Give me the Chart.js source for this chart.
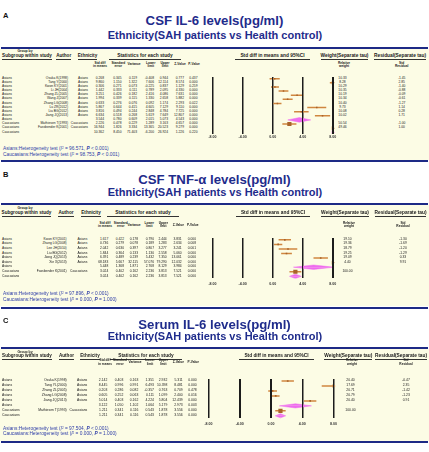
<!DOCTYPE html>
<html>
<head>
<meta charset="utf-8">
<title>Forest plots – ethnicity subgroups</title>
<script src="https://cdn.jsdelivr.net/npm/chart.js@4.4.1/dist/chart.umd.min.js"></script>
<style>
  html, body { margin:0; padding:0; background:#ffffff; }
  #root { position:relative; width:429px; height:452px; overflow:hidden; background:#ffffff;
          font-family:"Liberation Sans", Arial, Helvetica, sans-serif; }
  .t { position:absolute; white-space:nowrap; line-height:1; }
  .r { position:absolute; }
  canvas { position:absolute; }
  sup { font-size:0.62em; vertical-align:0.45em; line-height:0; }
</style>
</head>
<body>
<div id="root"></div>
<script>
// ======================= DATA =======================
const axisTicks = [-8, -4, 0, 4, 8];
const subtitleText = "Ethnicity(SAH patients vs Health control)";
const statHeaders = ["Std diff|in means", "Standard|error", "Variance", "Lower|limit", "Upper|limit", "Z-Value", "P-Value"];

// ---- Panel A : CSF IL-6 ----
const aTitle = "CSF IL-6 levels(pg/ml)";
const aGroup = ["Asians","Asians","Asians","Asians","Asians","Asians","Asians","Asians","Asians","Asians","Asians","Caucasians","Caucasians","Caucasians"];
const aAuthor = ["Osuka K(1998)","Tang Y(2000)","Kwon KY(2001)","Li JH(2004)","Zhang ZL(2005)","Wang Z(2007)","Zhang LG(2008)","Lu ZR(2012)","Liu BG(2012)","Jiang JQ(2013)","","Mathiesen T(1993)","Fassbender K(2001)",""];
const aEthnicity = ["Asians","Asians","Asians","Asians","Asians","Asians","Asians","Asians","Asians","Asians","","Caucasians","Caucasians",""];
const aStdDiff = [0.268, 9.860, 0.306, 1.442, 3.251, 1.994, 0.633, 5.867, 3.816, 6.634, 3.544, 2.226, 16.944, 10.362];
const aStdErr = [0.345, 1.150, 0.271, 0.333, 0.426, 0.339, 0.276, 0.644, 0.494, 0.518, 0.780, 0.478, 1.826, 8.450];
const aVariance = [0.119, 1.322, 0.073, 0.111, 0.182, 0.115, 0.076, 0.415, 0.244, 0.268, 0.609, 0.229, 3.334, 71.403];
const aLower = [-0.408, 7.606, -0.225, 0.789, 2.416, 1.330, 0.092, 4.605, 2.848, 5.619, 2.015, 1.289, 13.365, -6.200];
const aUpper = [0.944, 12.114, 0.837, 2.095, 4.086, 2.658, 1.174, 7.129, 4.784, 7.649, 5.073, 3.163, 20.523, 26.924];
const aZ = [0.777, 8.574, 1.129, 4.330, 7.631, 5.882, 2.293, 9.110, 7.725, 12.807, 4.543, 4.657, 9.279, 1.226];
const aP = [0.437, 0.000, 0.259, 0.000, 0.000, 0.000, 0.022, 0.000, 0.000, 0.000, 0.000, 0.000, 0.000, 0.220];
const aWeight = [10.33, 8.28, 10.29, 10.35, 10.19, 10.34, 10.40, 9.73, 10.08, 10.02, null, 50.54, 49.46, null];
const aResidual = [-1.45, 2.85, -1.40, -0.88, -0.09, -0.61, -1.27, 1.14, 0.28, 1.71, null, -1.00, 1.00, null];
const aHetGroup = ["Asians", "Caucasians"];
const aHetI2 = [96.571, 98.753];
const aHetP = ["< 0.001", "< 0.001"];

// ---- Panel B : CSF TNF-α ----
const bTitle = "CSF TNF-α levels(pg/ml)";
const bGroup = ["Asians","Asians","Asians","Asians","Asians","Asians","Asians","Caucasians","Caucasians"];
const bAuthor = ["Kwon KY(2001)","Zhang LG(2008)","Lee JH(2010)","Liu BG(2012)","Jiang JQ(2013)","Xie X(2013)","","Fassbender K(2001)",""];
const bEthnicity = ["Asians","Asians","Asians","Asians","Asians","Asians","","Caucasians",""];
const bStdDiff = [1.617, 0.736, 2.042, 1.844, 6.391, 68.183, 5.448, 3.024, 3.024];
const bStdErr = [0.422, 0.279, 0.630, 0.364, 0.489, 5.667, 1.368, 0.402, 0.402];
const bVariance = [0.178, 0.078, 0.397, 0.133, 0.239, 32.115, 1.871, 0.162, 0.162];
const bLower = [0.790, 0.189, 0.807, 1.130, 5.432, 57.076, 2.768, 2.236, 2.236];
const bUpper = [2.444, 1.283, 3.277, 2.558, 7.350, 79.290, 8.129, 3.813, 3.813];
const bZ = [3.831, 2.634, 3.241, 5.060, 13.061, 12.032, 3.984, 7.521, 7.521];
const bP = [0.000, 0.008, 0.001, 0.000, 0.000, 0.000, 0.000, 0.000, 0.000];
const bWeight = [19.10, 19.36, 18.79, 19.25, 19.09, 4.40, null, 100.00, null];
const bResidual = [-1.30, -1.69, -1.20, -1.29, 0.33, 9.91, null, null, null];
const bHetGroup = ["Asians", "Caucasians"];
const bHetI2 = [97.896, 0.000];
const bHetP = ["< 0.001", "= 1.000"];

// ---- Panel C : Serum IL-6 ----
const cTitle = "Serum IL-6 levels(pg/ml)";
const cGroup = ["Asians","Asians","Asians","Asians","Asians","Asians","Caucasians","Caucasians"];
const cAuthor = ["Osuka K(1998)","Tang YL(2000)","Zhang ZL(2005)","Zhang LG(2008)","Jiang JQ(2013)","","Mathiesen T(1993)",""];
const cEthnicity = ["Asians","Asians","Asians","Asians","Asians","","Caucasians",""];
const cStdDiff = [2.142, 8.445, 0.203, 0.605, 5.014, 3.122, 1.211, 1.211];
const cStdErr = [0.403, 0.996, 0.286, 0.252, 0.403, 1.050, 0.341, 0.341];
const cVariance = [0.163, 0.991, 0.082, 0.063, 0.162, 1.102, 0.116, 0.116];
const cLower = [1.351, 6.493, -0.357, 0.111, 4.224, 1.064, 0.543, 0.543];
const cUpper = [2.932, 10.398, 0.763, 1.099, 5.804, 5.179, 1.878, 1.878];
const cZ = [5.311, 8.481, 0.709, 2.400, 12.439, 2.973, 3.556, 3.556];
const cP = [0.000, 0.000, 0.478, 0.016, 0.000, 0.003, 0.000, 0.000];
const cWeight = [20.40, 17.69, 20.71, 20.79, 20.40, null, 100.00, null];
const cResidual = [-0.47, 2.35, -1.42, -1.23, 0.91, null, null, null];
const cHetGroup = ["Asians", "Caucasians"];
const cHetI2 = [97.504, 0.000];
const cHetP = ["< 0.001", "= 1.000"];

// ======================= STYLE / LAYOUT =======================
const COL = {
  title: "#1f2c8c", rule: "#1d2a86", band: "#fcfce5", text: "#202020",
  het: "#2e3da8", ci: "#cf8640", box: "#a8632a", diamond: "#ee6cee", grid: "#1c1c1c"
};
const FONT = '"Liberation Sans", Arial, Helvetica, sans-serif';
const TICK_FS = 3.6;

const panels = [
  { letter: "A", title: aTitle,
    d: { group:aGroup, author:aAuthor, eth:aEthnicity, stdDiff:aStdDiff, se:aStdErr, variance:aVariance,
         lower:aLower, upper:aUpper, z:aZ, p:aP, weight:aWeight, resid:aResidual },
    het: { group:aHetGroup, i2:aHetI2, p:aHetP },
    L: { labelY:16, titleY:21, subY:35.2, ruleTop:47.5, ruleBottom:161.2,
         groupByY:51.2, subgroupY:56.7, hdr1Y:63.2, hdr2Y:66.8,
         rowY:78.3, rowStep:4.15, rowFs:3.3, tickPad:1.2, hetY:[149.5,155.3],
         plotX:[212.5,332.8], subgroupX:27, authorX:63.7, ethX:87.5, statsX:145,
         authorEnd:68, ethEnd:88, numEnds:[104,121.5,137,154,168,184,197.5],
         hdrCenters:[100,118.3,134,150.7,165,180,194],
         ciHdrX:272.5, weightHdrX:344.5, residHdrX:400, weightX:342.5, residX:401.7, diamondH:0.55 } },
  { letter: "B", title: bTitle,
    d: { group:bGroup, author:bAuthor, eth:bEthnicity, stdDiff:bStdDiff, se:bStdErr, variance:bVariance,
         lower:bLower, upper:bUpper, z:bZ, p:bP, weight:bWeight, resid:bResidual },
    het: { group:bHetGroup, i2:bHetI2, p:bHetP },
    L: { labelY:174.3, titleY:180, subY:192.5, ruleTop:203.7, ruleBottom:307.5,
         groupByY:208.7, subgroupY:213.5, hdr1Y:223.3, hdr2Y:226.9,
         rowY:239.5, rowStep:4.6, rowFs:3.3, tickPad:3.4, hetY:[294.8,300.5],
         plotX:[212.5,332.8], subgroupX:26.5, authorX:66, ethX:91, statsX:143,
         authorEnd:66.7, ethEnd:87.3, numEnds:[108.3,124,138,154,166.7,181.7,196],
         hdrCenters:[105,120.7,134,149.3,163.3,178.3,192.7],
         ciHdrX:273, weightHdrX:345, residHdrX:400.5, weightX:347.5, residX:403, diamondH:0.48 } },
  { letter: "C", title: cTitle,
    d: { group:cGroup, author:cAuthor, eth:cEthnicity, stdDiff:cStdDiff, se:cStdErr, variance:cVariance,
         lower:cLower, upper:cUpper, z:cZ, p:cP, weight:cWeight, resid:cResidual },
    het: { group:cHetGroup, i2:cHetI2, p:cHetP },
    L: { labelY:320.5, titleY:324.3, subY:336.7, ruleTop:347.7, ruleBottom:441.7,
         groupByY:352.3, subgroupY:356.5, hdr1Y:361, hdr2Y:365,
         rowY:380.8, rowStep:5.0, rowFs:3.4, tickPad:4, hetY:[429.5,434.7],
         plotX:[208.5,333.5], subgroupX:27, authorX:66.5, ethX:90, statsX:146,
         authorEnd:66.7, ethEnd:87.3, numEnds:[107.3,123.3,138.3,154,167.3,182.7,196.7],
         hdrCenters:[105,120,135,150,163.3,178.3,193.3],
         ciHdrX:276.5, weightHdrX:348.3, residHdrX:401, weightX:350.5, residX:406, diamondH:0.42 } }
];

// ======================= HELPERS =======================
const root = document.getElementById('root');

function txt(str, x, y, size, o) {
  o = o || {};
  const d = document.createElement('div');
  d.className = 't';
  if (o.html) d.innerHTML = str; else d.textContent = str;
  d.style.left = x + 'px';
  d.style.top = (y - size * 0.5) + 'px';
  d.style.fontSize = size + 'px';
  d.style.color = o.color || COL.text;
  if (o.bold) d.style.fontWeight = 'bold';
  const a = o.align || 'left';
  if (a === 'center') d.style.transform = 'translateX(-50%)';
  else if (a === 'right') d.style.transform = 'translateX(-100%)';
  root.appendChild(d);
  return d;
}
function rect(x, y, w, h, color) {
  const d = document.createElement('div');
  d.className = 'r';
  d.style.left = x + 'px'; d.style.top = y + 'px';
  d.style.width = w + 'px'; d.style.height = h + 'px';
  d.style.background = color;
  root.appendChild(d);
  return d;
}
function underlined(str, cx, y, size, extra) {
  const el = txt(str, cx, y, size, { bold: true, align: 'center' });
  const w = el.getBoundingClientRect().width + (extra || 0);
  rect(cx - w / 2, y + size * 0.55, w, 0.7, '#333');
}

// ======================= TEXT PARTS =======================
function renderText(P) {
  const L = P.L, D = P.d, n = D.stdDiff.length;
  rect(0, L.ruleTop + 1, 429, (L.ruleBottom - 1) - (L.ruleTop + 1), COL.band);
  rect(1, L.ruleTop - 1, 427, 2, COL.rule);
  rect(1, L.ruleBottom - 1, 427, 2, COL.rule);

  txt(P.letter, 3, L.labelY, 7.5, { bold: true, color: '#111' });
  txt(P.title, 214.5, L.titleY, 13.2, { bold: true, color: COL.title, align: 'center' });
  txt(subtitleText, 215, L.subY, 11, { bold: true, color: COL.title, align: 'center' });

  txt("Group by", 25, L.groupByY, 3.4, { bold: true, align: 'center' });
  underlined("Subgroup within study", L.subgroupX, L.subgroupY, 4.6, 0);
  underlined("Author", L.authorX, L.subgroupY, 4.6, 0);
  underlined("Ethnicity", L.ethX, L.subgroupY, 4.6, 0);
  underlined("Statistics for each study", L.statsX, L.subgroupY, 4.8, 16);
  underlined("Std diff in means and 95%CI", L.ciHdrX, L.subgroupY, 4.8, 10);
  underlined("Weight(Separate tau)", L.weightHdrX, L.subgroupY, 4.8, 0);
  underlined("Residual(Separate tau)", L.residHdrX, L.subgroupY, 4.8, 0);

  const midH = (L.hdr1Y + L.hdr2Y) / 2;
  statHeaders.forEach((h, k) => {
    const parts = h.split('|');
    if (parts.length === 2) {
      txt(parts[0], L.hdrCenters[k], L.hdr1Y, 3.2, { bold: true, align: 'center' });
      txt(parts[1], L.hdrCenters[k], L.hdr2Y, 3.2, { bold: true, align: 'center' });
    } else {
      txt(parts[0], L.hdrCenters[k], midH, 3.2, { bold: true, align: 'center' });
    }
  });
  txt("Relative", L.weightX + 1.5, L.hdr1Y, 3.2, { bold: true, align: 'center' });
  txt("weight", L.weightX + 1.5, L.hdr2Y, 3.2, { bold: true, align: 'center' });
  txt("Std", L.residX, L.hdr1Y, 3.2, { bold: true, align: 'center' });
  txt("Residual", L.residX, L.hdr2Y, 3.2, { bold: true, align: 'center' });

  const fs = L.rowFs;
  for (let i = 0; i < n; i++) {
    const y = L.rowY + i * L.rowStep;
    txt(D.group[i], 2, y, fs);
    if (D.author[i]) txt(D.author[i], L.authorEnd, y, fs, { align: 'right' });
    if (D.eth[i]) txt(D.eth[i], L.ethEnd, y, fs, { align: 'right' });
    const vals = [D.stdDiff[i], D.se[i], D.variance[i], D.lower[i], D.upper[i], D.z[i], D.p[i]];
    vals.forEach((v, k) => txt(v.toFixed(3), L.numEnds[k], y, fs, { align: 'right' }));
    if (D.weight[i] !== null) txt(D.weight[i].toFixed(2), L.weightX, y, fs, { align: 'center' });
    if (D.resid[i] !== null) txt(D.resid[i].toFixed(2), L.residX, y, fs, { align: 'center' });
  }

  P.het.group.forEach((g, k) => {
    const html = g + ':Heterogeneity test (<i>I</i><sup>2</sup> = ' + P.het.i2[k].toFixed(3) +
                 ', <b><i>P</i></b> ' + P.het.p[k].replace('<', '&lt;') + ')';
    txt(html, 3, L.hetY[k], 4.8, { html: true, color: COL.het });
  });
}

// ======================= FOREST PLOT (Chart.js) =======================
function renderChart(P) {
  const L = P.L, D = P.d, n = D.stdDiff.length;
  const xMin = axisTicks[0], xMax = axisTicks[axisTicks.length - 1];
  const step = axisTicks[1] - axisTicks[0];
  const padRows = 0.4;
  const yLo = -padRows, yHi = n - 1 + padRows;
  const areaTop = L.rowY - padRows * L.rowStep;
  const areaBottom = L.rowY + (n - 1 + padRows) * L.rowStep;
  const axisH = TICK_FS * 1.2 + 2 * L.tickPad;
  const cLeft = Math.floor(L.plotX[0] - 12);
  const cRight = Math.ceil(L.plotX[1] + 12);
  const cTop = Math.floor(areaTop - 3);
  const cBottom = Math.ceil(areaBottom + axisH + 1);
  const W = cRight - cLeft, H = cBottom - cTop;

  const cv = document.createElement('canvas');
  cv.width = W; cv.height = H;
  cv.style.left = cLeft + 'px'; cv.style.top = cTop + 'px';
  cv.style.width = W + 'px'; cv.style.height = H + 'px';
  root.appendChild(cv);

  const inner = { left: 0, right: 0, top: false, bottom: false };
  const datasets = [];
  const ciPts = [], boxPts = [], boxR = [], arrowPts = [], arrowCol = [];
  for (let i = 0; i < n; i++) {
    const est = D.stdDiff[i], lo = D.lower[i], hi = D.upper[i];
    const inRange = est >= xMin && est <= xMax;
    const summary = D.author[i] === '';
    if (summary) {
      if (inRange) {
        [-1, 1].forEach(s => datasets.push({
          type: 'line', order: 3, clip: inner,
          data: [{ x: lo, y: i }, { x: est, y: i + s * L.diamondH }, { x: hi, y: i }],
          fill: { value: i }, backgroundColor: COL.diamond, borderColor: COL.diamond,
          borderWidth: 0.5, pointRadius: 0
        }));
      } else {
        arrowPts.push({ x: est > xMax ? xMax : xMin, y: i }); arrowCol.push(COL.diamond);
      }
    } else {
      ciPts.push({ x: hi, y: i }, { x: lo, y: i }, { x: lo, y: null });
      if (inRange) {
        boxPts.push({ x: est, y: i });
        const side = Math.max(1.5, 4.2 * Math.min(1, (D.weight[i] || 0) / 50));
        boxR.push(side / Math.SQRT2);
      }
      if (hi > xMax) { arrowPts.push({ x: xMax, y: i }); arrowCol.push(COL.ci); }
    }
  }
  datasets.push({
    type: 'line', order: 2, clip: inner, data: ciPts, borderColor: COL.ci,
    borderWidth: 1.5, pointRadius: 0, spanGaps: false, fill: false
  });
  datasets.push({
    type: 'scatter', order: 1, clip: inner, data: boxPts, pointStyle: 'rect',
    pointRadius: boxR, backgroundColor: COL.box, borderWidth: 0
  });
  datasets.push({
    type: 'scatter', order: 0, clip: false, data: arrowPts, pointStyle: 'triangle',
    rotation: 90, pointRadius: 2.1, backgroundColor: arrowCol, borderColor: arrowCol, borderWidth: 0
  });

  const padL = L.plotX[0] - cLeft, padR = cRight - L.plotX[1], padT = areaTop - cTop;
  new Chart(cv, {
    type: 'scatter',
    data: { datasets },
    options: {
      responsive: false, animation: false, devicePixelRatio: 1, events: [],
      layout: { padding: { left: padL, right: padR, top: padT,
                           bottom: Math.max(0, H - (areaBottom - cTop) - axisH) } },
      plugins: { legend: { display: false }, tooltip: { enabled: false } },
      scales: {
        x: {
          type: 'linear', min: xMin, max: xMax,
          ticks: { stepSize: step, callback: v => Number(v).toFixed(2),
                   font: { size: TICK_FS, family: FONT, weight: 'bold' }, color: '#333', padding: L.tickPad },
          grid: { color: COL.grid, lineWidth: 1.5, drawTicks: false },
          border: { display: false }
        },
        y: { type: 'linear', reverse: true, min: yLo, max: yHi, display: false }
      }
    }
  });

  // vertical reference lines at each axis tick, laid over the plot area
  // (same linear mapping as the chart area set by the padding above)
  const x0 = cLeft + padL, x1 = cRight - padR;
  axisTicks.forEach(t => {
    const px = x0 + (t - xMin) / (xMax - xMin) * (x1 - x0);
    rect(px - 0.75, areaTop, 1.5, areaBottom - areaTop, COL.grid);
  });
}

panels.forEach(P => { renderText(P); renderChart(P); });
</script>
</body>
</html>
